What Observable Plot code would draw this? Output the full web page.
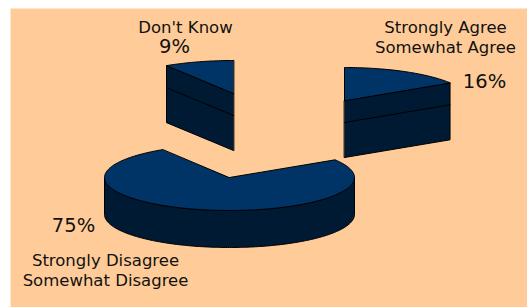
<!DOCTYPE html>
<html><head><meta charset="utf-8">
<script src="https://cdn.jsdelivr.net/npm/d3@7"></script>
<script src="https://cdn.jsdelivr.net/npm/@observablehq/plot@0.6"></script>
<style>body{margin:0;background:#fff}</style>
</head><body><div id="chart"></div>
<script>
// ---- data ----
const categories = ["Strongly Agree\nSomewhat Agree", "Strongly Disagree\nSomewhat Disagree", "Don't Know"];
const values = [16, 75, 9];

// ---- layout (pixels) ----
const layout = {
  apex: [[344, 100], [229, 177], [233, 93]],
  depth: [57, 37, 57],
  midLine: [22, null, 22],
  catPos: [[445, 52], [105, 285], [185, 32]],
  pctPos: [[484, 87], [73, 231], [174, 52]],
  drawOrder: [0, 2, 1],
  rx: 125, ry: 33
};
const topColor = "#003366", sideColor = "#001a33", bg = "#ffcc99";

const total = d3.sum(values);
let acc = 0;
const slices = values.map((v, i) => { const a0 = acc / total * 360; acc += v; return {i, a0, a1: acc / total * 360}; });
const rad = d => d * Math.PI / 180;
const pt = (c, a, dy = 0) => ({x: c[0] + layout.rx * Math.sin(rad(a)), y: c[1] - layout.ry * Math.cos(rad(a)) + dy});
function arc(c, a0, a1, dy = 0) {
  const n = Math.max(2, Math.ceil(Math.abs(a1 - a0)));
  return d3.range(n + 1).map(k => pt(c, a0 + (a1 - a0) * k / n, dy));
}
const polyOpts = fill => ({x: "x", y: "y", fill, stroke: "#000", strokeWidth: 1, curve: "linear-closed", strokeLinejoin: "round"});

const marks = [Plot.frame({fill: bg})];
for (const i of layout.drawOrder) {
  const s = slices[i], c = layout.apex[i], dep = layout.depth[i];
  // outer side (front-facing part)
  const f0 = Math.max(s.a0, 90), f1 = Math.min(s.a1, 270);
  if (f1 > f0) {
    const pts = arc(c, f0, f1).concat(arc(c, f1, f0, dep));
    marks.push(Plot.line(pts, polyOpts(sideColor)));
  }
  // radial cut faces that face the viewer
  for (const [edge, dir] of [[s.a0, s.a0 - 90], [s.a1, s.a1 + 90]]) {
    if (Math.cos(rad(dir)) < -1e-6) {
      const p = pt(c, edge), q = {x: c[0], y: c[1]};
      const pts = [q, p, {x: p.x, y: p.y + dep}, {x: q.x, y: q.y + dep}];
      marks.push(Plot.line(pts, polyOpts(sideColor)));
      if (layout.midLine[i] != null) {
        const m = layout.midLine[i];
        marks.push(Plot.line([{x: q.x, y: q.y + m}, {x: p.x, y: p.y + m}], {x: "x", y: "y", stroke: "#000", strokeWidth: 1}));
      }
    }
  }
  // top face
  const top = [{x: c[0], y: c[1]}].concat(arc(c, s.a0, s.a1));
  marks.push(Plot.line(top, polyOpts(topColor)));
}

const catLabels = categories.map((t, i) => ({t, x: layout.catPos[i][0], y: layout.catPos[i][1]}));
const pctLabels = values.map((v, i) => ({t: v + "%", x: layout.pctPos[i][0], y: layout.pctPos[i][1]}));
marks.push(Plot.text(catLabels, {x: "x", y: "y", text: "t", fontSize: 16.5, lineHeight: 20 / 16.5, lineAnchor: "bottom", textAnchor: "middle", fill: "#111", fontFamily: "DejaVu Sans"}));
marks.push(Plot.text(pctLabels, {x: "x", y: "y", text: "t", fontSize: 19.5, lineAnchor: "bottom", textAnchor: "middle", fill: "#111", fontFamily: "DejaVu Sans"}));

const chart = Plot.plot({
  width: 527, height: 307,
  marginTop: 8, marginLeft: 10, marginRight: 0, marginBottom: 0,
  x: {domain: [10, 527], axis: null},
  y: {domain: [307, 8], axis: null},
  style: {background: "#fff", fontFamily: "DejaVu Sans"},
  marks
});
document.getElementById("chart").appendChild(chart);
</script>
</body></html>
